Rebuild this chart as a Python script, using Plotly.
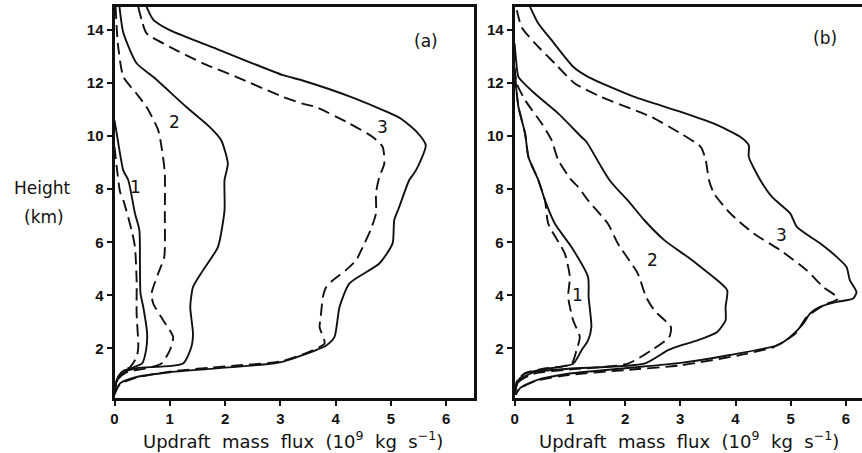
import plotly.graph_objects as go

# Updraft mass flux profiles (10^9 kg/s) versus height (km)
# Panel (a)
a1_solid_x = [0.0, 0.04, 0.16, 0.25, 0.37, 0.45, 0.46, 0.47, 0.52, 0.59, 0.57, 0.5, 0.3, 0.16, 0.07, 0.02, 0.0]
a1_solid_y = [10.6, 10.1, 8.7, 8.34, 7.09, 6.45, 5.2, 4.07, 3.56, 2.56, 1.92, 1.43, 1.25, 1.15, 0.95, 0.6, 0.25]
a1_dash_x = [0.0, 0.04, 0.1, 0.16, 0.31, 0.37, 0.4, 0.4, 0.43, 0.4, 0.28, 0.14, 0.06, 0.0]
a1_dash_y = [9.6, 8.84, 7.9, 7.58, 6.45, 5.82, 4.57, 3.32, 2.05, 1.67, 1.29, 1.12, 0.85, 0.3]
a2_solid_x = [0.09, 0.16, 0.4, 0.7, 1.3, 1.72, 1.93, 2.05, 1.99, 1.99, 1.87, 1.6, 1.42, 1.37, 1.42, 1.39, 1.24, 0.4, 0.16, 0.04, 0.0]
a2_solid_y = [14.88, 13.9, 12.75, 12.24, 11.1, 10.35, 9.85, 8.97, 8.34, 7.2, 5.82, 4.94, 4.31, 3.56, 2.56, 2.05, 1.43, 1.25, 1.1, 0.8, 0.25]
a2_dash_x = [0.02, 0.06, 0.16, 0.4, 0.58, 0.79, 0.86, 0.91, 0.91, 0.9, 0.79, 0.67, 0.7, 0.88, 1.06, 1.0, 0.85, 0.58, 0.22, 0.05, 0.0]
a2_dash_y = [14.88, 13.5, 12.24, 11.6, 11.1, 10.23, 9.47, 8.6, 7.09, 5.45, 4.82, 4.07, 3.69, 3.06, 2.43, 1.92, 1.43, 1.25, 1.1, 0.8, 0.3]
a3_solid_x = [0.58, 0.7, 1.0, 1.9, 3.05, 3.4, 4.25, 5.15, 5.45, 5.63, 5.45, 5.33, 5.15, 5.06, 5.03, 4.79, 4.25, 4.07, 3.98, 3.83, 3.4, 3.05, 2.86, 2.2, 1.0, 0.4, 0.1, 0.01]
a3_solid_y = [14.88, 14.4, 14.0, 13.25, 12.3, 12.1, 11.5, 10.7, 10.2, 9.66, 8.7, 8.34, 7.33, 6.83, 5.96, 5.2, 4.45, 3.56, 2.43, 2.11, 1.74, 1.5, 1.43, 1.3, 1.1, 0.92, 0.68, 0.3]
a3_dash_x = [0.43, 0.49, 0.58, 1.0, 1.6, 2.2, 3.05, 3.4, 3.64, 4.25, 4.67, 4.85, 4.88, 4.79, 4.73, 4.73, 4.63, 4.49, 4.37, 4.18, 3.95, 3.83, 3.77, 3.73, 3.71, 3.8, 3.5, 3.0, 2.0, 1.0, 0.4, 0.1, 0.0]
a3_dash_y = [14.88, 14.38, 13.88, 13.37, 12.75, 12.24, 11.48, 11.23, 11.1, 10.48, 9.97, 9.6, 8.97, 8.46, 7.85, 7.09, 6.45, 5.82, 5.32, 4.94, 4.57, 4.31, 3.94, 3.18, 2.8, 2.19, 1.85, 1.5, 1.32, 1.12, 0.9, 0.65, 0.3]

# Panel (b)
b1_solid_x = [0.0, 0.03, 0.07, 0.19, 0.25, 0.43, 0.55, 0.73, 1.03, 1.33, 1.34, 1.39, 1.33, 1.21, 1.06, 0.5, 0.2, 0.05, 0.0]
b1_solid_y = [12.5, 11.8, 11.1, 10.1, 9.22, 8.34, 7.58, 6.7, 5.82, 4.69, 3.94, 2.8, 2.3, 1.92, 1.42, 1.2, 1.05, 0.75, 0.3]
b1_dash_x = [0.0, 0.03, 0.07, 0.19, 0.25, 0.43, 0.55, 0.61, 0.91, 1.0, 0.97, 1.06, 1.18, 1.12, 1.03, 0.5, 0.2, 0.05, 0.0]
b1_dash_y = [12.3, 11.8, 11.1, 10.1, 9.22, 8.34, 7.58, 6.7, 5.57, 4.69, 3.94, 3.06, 2.43, 1.92, 1.42, 1.22, 1.08, 0.8, 0.35]
b2_solid_x = [0.0, 0.03, 0.07, 0.37, 0.79, 1.21, 1.3, 1.57, 1.72, 1.93, 2.05, 2.35, 2.71, 3.13, 3.37, 3.67, 3.85, 3.82, 3.82, 3.67, 3.31, 3.01, 2.77, 2.35, 0.97, 0.36, 0.08, 0.0]
b2_solid_y = [13.5, 12.8, 12.24, 11.6, 10.86, 9.97, 9.79, 8.84, 8.34, 7.84, 7.58, 6.83, 6.08, 5.45, 5.07, 4.57, 4.19, 3.56, 3.06, 2.62, 2.3, 2.11, 1.92, 1.42, 1.23, 1.1, 0.8, 0.3]
b2_dash_x = [0.0, 0.04, 0.19, 0.49, 0.67, 0.79, 1.03, 1.15, 1.33, 1.69, 1.87, 2.23, 2.38, 2.53, 2.83, 2.8, 2.47, 2.05, 1.0, 0.36, 0.08, 0.0]
b2_dash_y = [12.6, 11.99, 11.36, 10.48, 9.85, 9.1, 8.34, 8.09, 7.58, 6.7, 5.95, 4.82, 3.94, 3.43, 2.8, 2.43, 1.92, 1.42, 1.2, 1.05, 0.75, 0.3]
b3_solid_x = [0.28, 0.43, 0.67, 1.06, 1.33, 2.17, 3.01, 3.6, 4.09, 4.24, 4.24, 4.45, 4.66, 4.99, 5.11, 5.53, 5.83, 6.01, 6.07, 6.19, 6.13, 5.83, 5.53, 5.35, 5.23, 4.99, 4.75, 3.9, 3.01, 2.0, 1.0, 0.4, 0.1, 0.02]
b3_solid_y = [14.88, 14.25, 13.62, 12.62, 12.24, 11.48, 10.92, 10.48, 9.97, 9.66, 9.22, 8.34, 7.71, 7.09, 6.58, 5.96, 5.45, 5.07, 4.57, 4.12, 3.88, 3.75, 3.56, 3.32, 2.94, 2.43, 2.11, 1.75, 1.45, 1.25, 1.05, 0.8, 0.5, 0.25]
b3_dash_x = [0.04, 0.13, 0.37, 0.73, 1.09, 1.57, 2.47, 3.01, 3.37, 3.46, 3.52, 3.61, 3.91, 4.33, 4.81, 5.29, 5.59, 5.86, 5.59, 5.29, 5.08, 4.69, 4.21, 3.01, 2.0, 1.0, 0.4, 0.1, 0.0]
b3_dash_y = [14.75, 14.1, 13.5, 12.74, 11.99, 11.48, 10.73, 10.1, 9.6, 9.1, 8.34, 7.84, 7.08, 6.33, 5.7, 4.94, 4.31, 3.88, 3.62, 3.18, 2.55, 2.05, 1.8, 1.36, 1.18, 1.0, 0.78, 0.5, 0.25]

# Curve labels: (text, x, y)
labels_a = [("1", 0.38, 8.1), ("2", 1.09, 10.55), ("3", 4.85, 10.35)]
labels_b = [("1", 1.13, 4.0), ("2", 2.5, 5.32), ("3", 4.84, 6.26)]

x_ticks = [0, 1, 2, 3, 4, 5, 6]
y_ticks = [2, 4, 6, 8, 10, 12, 14]

INK = "#111111"
DASH = "12px,6px"

fig = go.Figure()

panels = [
    ("x", "y", [(a1_solid_x, a1_solid_y, "solid"), (a1_dash_x, a1_dash_y, DASH),
                (a2_solid_x, a2_solid_y, "solid"), (a2_dash_x, a2_dash_y, DASH),
                (a3_solid_x, a3_solid_y, "solid"), (a3_dash_x, a3_dash_y, DASH)]),
    ("x2", "y2", [(b1_solid_x, b1_solid_y, "solid"), (b1_dash_x, b1_dash_y, DASH),
                  (b2_solid_x, b2_solid_y, "solid"), (b2_dash_x, b2_dash_y, DASH),
                  (b3_solid_x, b3_solid_y, "solid"), (b3_dash_x, b3_dash_y, DASH)]),
]

for xa, ya, curves in panels:
    for cx, cy, dash in curves:
        fig.add_trace(go.Scatter(
            x=cx, y=cy, xaxis=xa, yaxis=ya, mode="lines",
            line=dict(color=INK, width=1.9, dash=dash, shape="spline", smoothing=0.6),
            showlegend=False, hoverinfo="skip"))

tick_font = dict(family="Liberation Sans Narrow, Liberation Sans", size=15, color=INK, weight="bold")
text_font = dict(family="DejaVu Sans", size=17, color=INK)
title_font = dict(family="DejaVu Sans", size=18, color=INK)

common_x = dict(tickvals=x_ticks, ticks="outside", ticklen=5, tickwidth=2, tickcolor=INK,
                showline=True, linewidth=3, linecolor=INK, mirror=True, showgrid=False,
                zeroline=False, tickfont=tick_font)
common_y = dict(tickvals=y_ticks, ticks="outside", ticklen=5, tickwidth=2, tickcolor=INK,
                showline=True, linewidth=3, linecolor=INK, showgrid=False,
                zeroline=False, tickfont=tick_font)

fig.update_layout(
    width=862, height=453,
    margin=dict(l=0, r=0, t=0, b=0),
    paper_bgcolor="white", plot_bgcolor="white",
    font=dict(family="DejaVu Sans", size=17, color=INK),
    xaxis=dict(domain=[0.1288, 0.5476], range=[0, 6.5], anchor="y", **common_x),
    yaxis=dict(domain=[0.121, 0.985], range=[0.12, 14.88], anchor="x", mirror=True, **common_y),
    xaxis2=dict(domain=[0.5951, 1.0], range=[0, 6.29], anchor="y2", **common_x),
    yaxis2=dict(domain=[0.121, 0.985], range=[0.12, 14.88], anchor="x2", mirror=False, **common_y),
)

annotations = []
for text, lx, ly in labels_a:
    annotations.append(dict(text=text, x=lx, y=ly, xref="x", yref="y", showarrow=False, font=text_font))
for text, lx, ly in labels_b:
    annotations.append(dict(text=text, x=lx, y=ly, xref="x2", yref="y2", showarrow=False, font=text_font))
annotations.append(dict(text="(a)", x=5.63, y=13.6, xref="x", yref="y", showarrow=False, font=text_font))
annotations.append(dict(text="(b)", x=5.62, y=13.69, xref="x2", yref="y2", showarrow=False, font=text_font))

xtitle = "Updraft  mass  flux  (10<sup>9</sup>  kg  s<sup>−1</sup>)"
annotations.append(dict(text=xtitle, x=290 / 862, y=1 - 440 / 453, xref="paper", yref="paper",
                        showarrow=False, font=title_font, xanchor="center", yanchor="middle"))
annotations.append(dict(text=xtitle, x=688 / 862, y=1 - 440 / 453, xref="paper", yref="paper",
                        showarrow=False, font=title_font, xanchor="center", yanchor="middle"))
annotations.append(dict(text="Height", x=39 / 862, y=1 - 188 / 453, xref="paper", yref="paper",
                        showarrow=False, font=text_font, xanchor="center", yanchor="middle"))
annotations.append(dict(text="(km)", x=40 / 862, y=1 - 217 / 453, xref="paper", yref="paper",
                        showarrow=False, font=text_font, xanchor="center", yanchor="middle"))
fig.update_layout(annotations=annotations)

fig.write_html("out.html")
